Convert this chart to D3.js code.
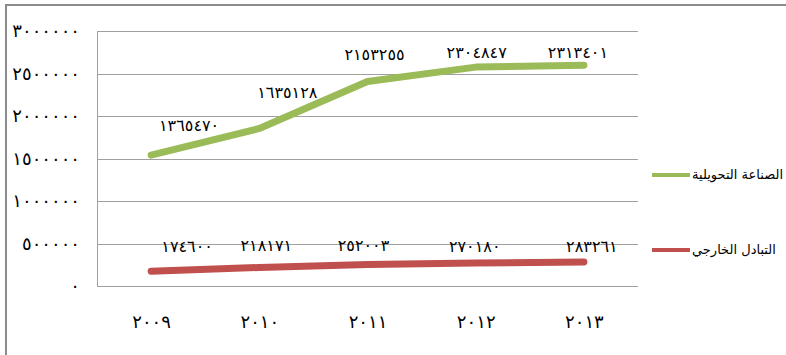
<!DOCTYPE html>
<html>
<head>
<meta charset="utf-8">
<script src="https://cdn.jsdelivr.net/npm/d3@7"></script>
<style>
  html, body { margin: 0; padding: 0; background: #fff; overflow: hidden; }
  svg { display: block; font-family: 'DejaVu Sans', sans-serif; }
</style>
</head>
<body>
<div id="chart"></div>
<script>
const width = 786;
const height = 355;

const years = ['2009', '2010', '2011', '2012', '2013'];
const manufacturing = [1365470, 1635128, 2153255, 2304847, 2313401];
const trade = [174600, 218171, 252003, 270180, 283261];
const yTicks = [0, 500000, 1000000, 1500000, 2000000, 2500000, 3000000];

const seriesNames = ['التبادل الخارجي', 'الصناعة التحويلية'];
const seriesColors = ['#c0504d', '#9bbb59'];

// hand-placed label nudges (dx, dy) relative to each point
const labelNudge = [
  [[36, -25], [7, -22], [-4, -19], [-1, -17], [8, -16]],
  [[38, -30], [28, -36], [7, -27], [1, -15], [-6, -13]],
];

const margin = { top: 31, right: 148, bottom: 69, left: 97 };

const arabicDigits = (s) => String(s).replace(/[0-9]/g, (c) => '٠١٢٣٤٥٦٧٨٩'[+c]);

const rows = years.map((yr, i) => ({ year: yr, trade: trade[i], manufacturing: manufacturing[i] }));
const stacked = d3.stack().keys(['trade', 'manufacturing'])(rows);

const svg = d3.select('#chart').append('svg').attr('width', width).attr('height', height);

// outer frame
svg.append('rect')
  .attr('x', 6).attr('y', 5)
  .attr('width', width + 20).attr('height', height + 20)
  .attr('fill', 'none').attr('stroke', '#8c8c8c').attr('stroke-width', 2);

const x = d3.scalePoint()
  .domain(years)
  .range([margin.left, width - margin.right])
  .padding(0.5);

const y = d3.scaleLinear()
  .domain([0, 3000000])
  .range([height - margin.bottom, margin.top]);

// gridlines
svg.append('g')
  .selectAll('line')
  .data(yTicks)
  .join('line')
  .attr('x1', margin.left).attr('x2', width - margin.right)
  .attr('y1', (d) => Math.round(y(d)) + 0.5).attr('y2', (d) => Math.round(y(d)) + 0.5)
  .attr('stroke', '#a0a0a0').attr('stroke-width', 1);

svg.append('line')
  .attr('x1', margin.left + 0.5).attr('x2', margin.left + 0.5)
  .attr('y1', y(3000000)).attr('y2', y(0))
  .attr('stroke', '#a0a0a0');

// y axis labels
const yAxis = d3.axisLeft(y).tickValues(yTicks).tickSize(0).tickPadding(17)
  .tickFormat((d) => arabicDigits(d));
svg.append('g')
  .attr('transform', `translate(${margin.left},0)`)
  .call(yAxis)
  .call((g) => g.select('.domain').remove())
  .selectAll('text')
  .style('font-size', '18px')
  .style('font-family', "'DejaVu Sans', sans-serif")
  .attr('fill', '#000');

// x axis labels
const xAxis = d3.axisBottom(x).tickSize(0).tickPadding(29).tickFormat((d) => arabicDigits(d));
svg.append('g')
  .attr('transform', `translate(0,${height - margin.bottom})`)
  .call(xAxis)
  .call((g) => g.select('.domain').remove())
  .selectAll('text')
  .style('font-size', '18px')
  .style('font-family', "'DejaVu Sans', sans-serif")
  .attr('fill', '#000');

// lines
const line = d3.line()
  .x((d) => x(d.data.year))
  .y((d) => y(d[1]));

svg.append('g')
  .selectAll('path')
  .data(stacked)
  .join('path')
  .attr('d', line)
  .attr('fill', 'none')
  .attr('stroke', (d, i) => seriesColors[i])
  .attr('stroke-width', 7)
  .attr('stroke-linecap', 'round')
  .attr('stroke-linejoin', 'round');

// data labels
stacked.forEach((s, si) => {
  svg.append('g')
    .selectAll('text')
    .data(s)
    .join('text')
    .attr('x', (d, i) => x(d.data.year) + labelNudge[si][i][0])
    .attr('y', (d, i) => y(d[1]) + labelNudge[si][i][1])
    .attr('dy', '0.35em')
    .attr('text-anchor', 'middle')
    .style('font-size', '16px')
    .style('font-family', "'DejaVu Sans', sans-serif")
    .attr('fill', '#000')
    .text((d) => arabicDigits(d[1] - d[0]));
});

// legend
const legendY = [250, 175];
const legend = svg.append('g');
seriesNames.forEach((name, i) => {
  legend.append('line')
    .attr('x1', 652).attr('x2', 690)
    .attr('y1', legendY[i]).attr('y2', legendY[i])
    .attr('stroke', seriesColors[i]).attr('stroke-width', 4);
  legend.append('text')
    .attr('x', 692).attr('y', legendY[i])
    .attr('dy', '0.3em')
    .attr('text-anchor', 'start')
    .style('font-size', '13px')
    .attr('fill', '#000')
    .text(name);
});
</script>
</body>
</html>
